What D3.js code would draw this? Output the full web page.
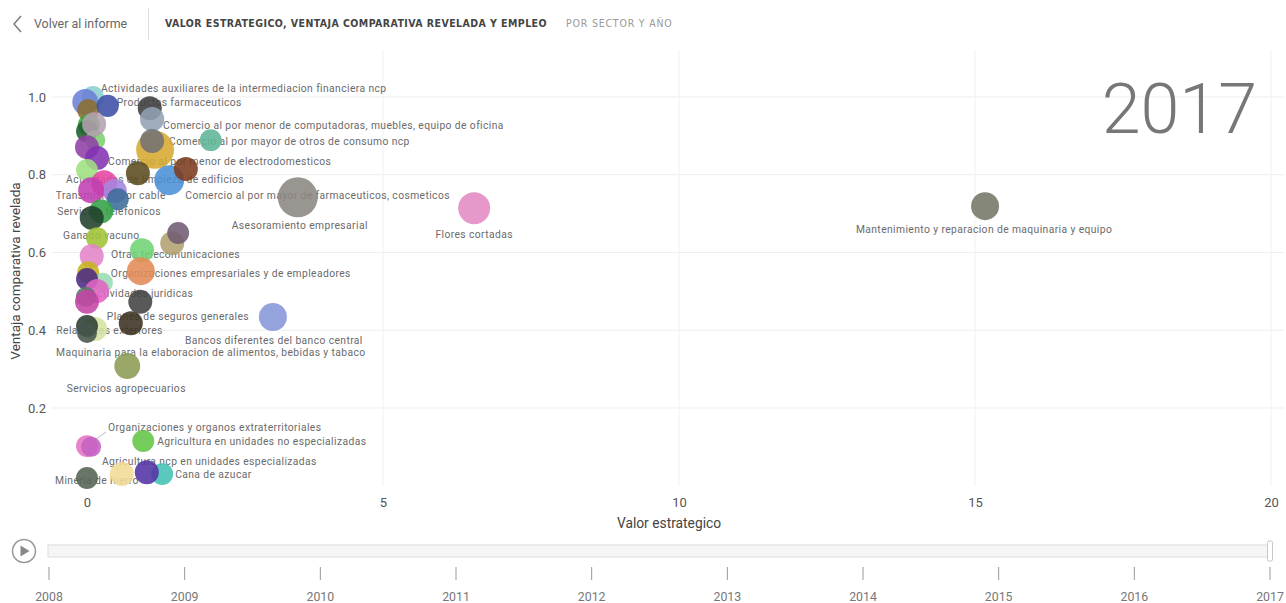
<!DOCTYPE html>
<html>
<head>
<meta charset="utf-8">
<script src="https://cdn.jsdelivr.net/npm/d3@7"></script>
<style>
  body { margin: 0; background: #fff; }
  svg { display: block; font-family: Roboto, "Open Sans", sans-serif; }
</style>
</head>
<body>
<svg id="chart" width="1286" height="603"></svg>
<script>
// Sector names (empty string = bubble drawn without a data label)
const sectores = [
  "Actividades auxiliares de la intermediacion financiera ncp", "", "", "Productos farmaceuticos",
  "", "Comercio al por menor de computadoras, muebles, equipo de oficina", "", "", "", "", "",
  "Actividades de limpieza de edificios", "Comercio al por mayor de otros de consumo ncp", "",
  "Comercio al por menor de electrodomesticos", "", "Comercio al por mayor de farmaceuticos, cosmeticos", "",
  "", "", "Transmision por cable", "", "", "Asesoramiento empresarial", "Flores cortadas",
  "Mantenimiento y reparacion de maquinaria y equipo", "Servicios telefonicos", "", "Ganado vacuno",
  "", "", "Otras telecomunicaciones", "", "Organizaciones empresariales y de empleadores", "", "", "",
  "Actividades juridicas", "", "", "", "Bancos diferentes del banco central", "Planes de seguros generales",
  "Relaciones exteriores", "", "Maquinaria para la elaboracion de alimentos, bebidas y tabaco",
  "Servicios agropecuarios", "Organizaciones y organos extraterritoriales", "",
  "Agricultura en unidades no especializadas", "Agricultura ncp en unidades especializadas",
  "Cana de azucar", "", "Mineria de hierro"
];
// Valor estrategico (x)
const valorEstrategico = [
  0.10, -0.03, 0.02, 0.35, 1.06, 1.10, 0.03, 0.00, 0.14, 0.12, 2.09,
  1.15, 1.10, 0.00, 0.17, 0.86, 1.39, 1.67, 0.00, 0.29, 0.47, 0.52, 0.07,
  3.56, 6.54, 15.17, 0.24, 0.08, 0.17, 1.44, 1.54, 0.93, 0.08, 0.91, 0.02,
  0.27, 0.00, 0.17, -0.02, 0.00, 0.90, 3.14, 0.74, 0.14, 0.00, 0.00, 0.68,
  0.00, 0.07, 0.95, 0.59, 1.27, 1.01, 0.00
];
// Ventaja comparativa revelada (y)
const ventajaComparativa = [
  1.000, 0.987, 0.966, 0.977, 0.971, 0.943, 0.928, 0.912, 0.889, 0.930, 0.889,
  0.864, 0.887, 0.871, 0.843, 0.804, 0.786, 0.815, 0.812, 0.778, 0.758, 0.737, 0.760,
  0.742, 0.714, 0.719, 0.706, 0.689, 0.637, 0.624, 0.650, 0.606, 0.591, 0.552, 0.549,
  0.522, 0.532, 0.501, 0.486, 0.473, 0.473, 0.434, 0.418, 0.403, 0.411, 0.393, 0.308,
  0.102, 0.100, 0.115, 0.030, 0.030, 0.035, 0.020
];
// Empleo (bubble size)
const empleo = [
  30000, 42000, 30000, 30500, 36000, 36500, 30000, 30000, 25000, 36000, 30000,
  90000, 36000, 36000, 36000, 36000, 56000, 36000, 30000, 42000, 36000, 30000, 42000,
  100000, 64000, 49000, 36000, 36000, 30000, 36000, 30000, 36000, 36000, 49000, 30000,
  25000, 30000, 36000, 25000, 36000, 36000, 49000, 36000, 36000, 30000, 25000, 42000,
  30000, 25000, 30000, 36000, 30000, 36000, 30000
];
const colores = [
  "#8ccfd0", "#6c7fd6", "#8b6d2e", "#3c4ea6", "#3d3d3d", "#92a0b2", "#3ca040", "#1f5d2c", "#7fd06f", "#b4a2ae", "#5fb597",
  "#d6a92f", "#727272", "#9140a6", "#8232b2", "#5b4b1f", "#4a8fd6", "#7b3b1f", "#9fe07f", "#e446a4", "#a585e0", "#3b6c98", "#c23fb0",
  "#8b8682", "#e28ac4", "#747866", "#32a244", "#22402c", "#9fc437", "#b2a26f", "#715b72", "#6fd374", "#e384c9", "#e38a55", "#c5b31e",
  "#9adcb0", "#4b2b84", "#e363c3", "#587a66", "#c543a6", "#424242", "#8595da", "#3b3120", "#d4e4a4", "#2c3c32", "#46554c", "#8b9b53",
  "#e573c1", "#c462c2", "#62c444", "#f2db95", "#41c2b3", "#5332a4", "#536353"
];
const xTicks = [0, 5, 10, 15, 20];
const yTicks = [0.2, 0.4, 0.6, 0.8, 1.0];
const anios = [2008, 2009, 2010, 2011, 2012, 2013, 2014, 2015, 2016, 2017];
const anioActual = 2017;

// Data-label placement relative to each bubble centre: [dx, dy, anchor]
const ubicacionEtiquetas = {
  "Actividades auxiliares de la intermediacion financiera ncp": [8, -8, "start"],
  "Productos farmaceuticos": [9, -3, "start"],
  "Comercio al por menor de computadoras, muebles, equipo de oficina": [11, 6, "start"],
  "Comercio al por mayor de otros de consumo ncp": [17, 1, "start"],
  "Comercio al por menor de electrodomesticos": [11, 3, "start"],
  "Actividades de limpieza de edificios": [0, 30, "middle"],
  "Transmision por cable": [-59, 4, "start"],
  "Comercio al por mayor de farmaceuticos, cosmeticos": [16, 15, "start"],
  "Servicios telefonicos": [-44, 0, "start"],
  "Asesoramiento empresarial": [2, 28, "middle"],
  "Flores cortadas": [0, 26, "middle"],
  "Mantenimiento y reparacion de maquinaria y equipo": [-1, 23, "middle"],
  "Ganado vacuno": [-34, -3, "start"],
  "Otras telecomunicaciones": [-31, 4, "start"],
  "Organizaciones empresariales y de empleadores": [-30, 2, "start"],
  "Actividades juridicas": [-7, 3, "start"],
  "Planes de seguros generales": [-24, -7, "start"],
  "Relaciones exteriores": [-39, 1, "start"],
  "Bancos diferentes del banco central": [1, 23, "middle"],
  "Maquinaria para la elaboracion de alimentos, bebidas y tabaco": [-31, 20, "start"],
  "Servicios agropecuarios": [-1, 22, "middle"],
  "Organizaciones y organos extraterritoriales": [21, -19, "start"],
  "Agricultura en unidades no especializadas": [14, 0, "start"],
  "Agricultura ncp en unidades especializadas": [-20, -13, "start"],
  "Cana de azucar": [13, 0, "start"],
  "Mineria de hierro": [-32, 3, "start"]
};

const datos = sectores.map((s, i) => ({
  sector: s, x: valorEstrategico[i], y: ventajaComparativa[i], empleo: empleo[i], color: colores[i]
}));

const svg = d3.select("#chart");
const condensada = "'DejaVu Sans Condensed', 'DejaVu Sans', sans-serif";

// ---------- header ----------
const header = svg.append("g");
header.append("path").attr("d", "M21,16 L14,24 L21,32")
  .attr("fill", "none").attr("stroke", "#777").attr("stroke-width", 1.4);
header.append("text").attr("x", 34).attr("y", 28).attr("font-size", 12.4).attr("fill", "#666")
  .text("Volver al informe");
header.append("line").attr("x1", 148.5).attr("x2", 148.5).attr("y1", 8).attr("y2", 40)
  .attr("stroke", "#ddd");
header.append("text").attr("x", 165).attr("y", 27).attr("font-size", 10.5).attr("font-weight", "bold")
  .attr("letter-spacing", 0.44).attr("font-family", condensada).attr("fill", "#444")
  .text("VALOR ESTRATEGICO, VENTAJA COMPARATIVA REVELADA Y EMPLEO");
header.append("text").attr("x", 566).attr("y", 27).attr("font-size", 10.5)
  .attr("letter-spacing", 0.8).attr("font-family", condensada).attr("fill", "#999")
  .text("POR SECTOR Y AÑO");

// ---------- scales ----------
const x = d3.scaleLinear().domain([0, 20]).range([87, 1271]);
const y = d3.scaleLinear().domain([0, 1.1]).range([485.75, 58.1]);
const r = d3.scaleSqrt().domain([0, 100000]).range([0, 20]);

// ---------- grid ----------
const grid = svg.append("g");
grid.selectAll(".gy").data(yTicks).join("line")
  .attr("x1", 52).attr("x2", 1284).attr("y1", d => y(d)).attr("y2", d => y(d))
  .attr("stroke", "#eeeeee");
grid.selectAll(".gx").data(xTicks.filter(d => d > 0)).join("line")
  .attr("x1", d => x(d)).attr("x2", d => x(d)).attr("y1", 50).attr("y2", 486)
  .attr("stroke", "#f1f1f1");

// ---------- axes ----------
const xAxis = svg.append("g").attr("transform", "translate(0,486)")
  .call(d3.axisBottom(x).tickValues(xTicks).tickSize(0).tickPadding(12).tickFormat(d3.format("d")));
const yAxis = svg.append("g").attr("transform", "translate(46,0)")
  .call(d3.axisLeft(y).tickValues(yTicks).tickSize(0).tickPadding(0).tickFormat(d3.format(".1f")));
[xAxis, yAxis].forEach(a => {
  a.select(".domain").remove();
  a.selectAll("text").attr("font-size", 13).attr("fill", "#555").attr("font-family", "Roboto, sans-serif");
});

svg.append("text").attr("x", 669).attr("y", 528).attr("text-anchor", "middle")
  .attr("font-size", 13.8).attr("fill", "#444").text("Valor estrategico");
svg.append("text").attr("transform", "translate(20,271) rotate(-90)").attr("text-anchor", "middle")
  .attr("font-size", 13.5).attr("fill", "#444").text("Ventaja comparativa revelada");

// ---------- current year ----------
svg.append("text").attr("x", 1257).attr("y", 133).attr("text-anchor", "end")
  .attr("font-size", 70).attr("font-weight", 300).attr("fill", "#777").text(anioActual);

// ---------- data labels (under the bubbles) ----------
const etiquetas = datos.filter(d => d.sector && ubicacionEtiquetas[d.sector]);
const gLab = svg.append("g");
etiquetas.filter(d => d.sector === "Organizaciones y organos extraterritoriales").forEach(d => {
  const [dx, dy] = ubicacionEtiquetas[d.sector];
  gLab.append("line").attr("x1", x(d.x) + 2).attr("y1", y(d.y) - 2)
    .attr("x2", x(d.x) + dx - 2).attr("y2", y(d.y) + dy + 5)
    .attr("stroke", "#aaa").attr("stroke-width", 0.8);
});
gLab.selectAll("text").data(etiquetas).join("text")
  .attr("x", d => x(d.x) + ubicacionEtiquetas[d.sector][0])
  .attr("y", d => y(d.y) + ubicacionEtiquetas[d.sector][1])
  .attr("text-anchor", d => ubicacionEtiquetas[d.sector][2])
  .attr("dominant-baseline", "central")
  .attr("font-size", 10.3).attr("letter-spacing", 0.4).attr("fill", "#6a6a6a")
  .text(d => d.sector);

// ---------- bubbles ----------
svg.append("g").selectAll("circle").data(datos).join("circle")
  .attr("cx", d => x(d.x)).attr("cy", d => y(d.y)).attr("r", d => r(d.empleo))
  .attr("fill", d => d.color).attr("fill-opacity", 0.88);

// ---------- play axis ----------
const tl = svg.append("g");
tl.append("circle").attr("cx", 24).attr("cy", 551).attr("r", 11.5)
  .attr("fill", "#fff").attr("stroke", "#999").attr("stroke-width", 1.5);
tl.append("path").attr("d", "M20.5,545.5 L29.5,551 L20.5,556.5 Z").attr("fill", "#888");
tl.append("rect").attr("x", 48).attr("y", 545).attr("width", 1224).attr("height", 12)
  .attr("fill", "#f6f6f6").attr("stroke", "#dcdcdc");
const t = d3.scaleLinear().domain([anios[0], anios[anios.length - 1]]).range([49, 1270]);
tl.append("rect").attr("x", t(anioActual) - 2.5).attr("y", 541).attr("width", 5).attr("height", 20)
  .attr("rx", 1.5).attr("fill", "#fff").attr("stroke", "#c8c8c8");
tl.selectAll(".tick").data(anios).join("line")
  .attr("x1", d => t(d)).attr("x2", d => t(d)).attr("y1", 567).attr("y2", 580)
  .attr("stroke", "#999");
tl.selectAll(".lab").data(anios).join("text")
  .attr("x", d => t(d)).attr("y", 601).attr("text-anchor", "middle")
  .attr("font-size", 12.3).attr("fill", "#777").text(d => d);
</script>
</body>
</html>
